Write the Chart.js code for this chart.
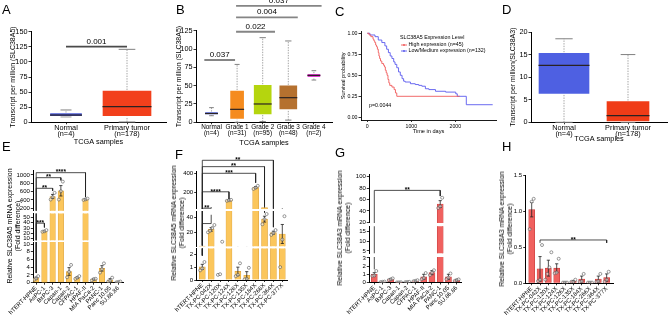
<!DOCTYPE html>
<html><head><meta charset="utf-8">
<script src="https://cdn.jsdelivr.net/npm/chart.js@4.4.1/dist/chart.umd.min.js"></script>
<style>
html,body{margin:0;padding:0;background:#fff;}
#wrap{position:relative;width:669px;height:321px;overflow:hidden;font-family:'Liberation Sans',Arial,Helvetica,sans-serif;background:#fff;}
canvas{position:absolute;}
.lt{position:absolute;font-size:13px;line-height:13px;color:#000;}
.yt{position:absolute;white-space:nowrap;font-size:7px;line-height:8px;color:#000;text-align:center;transform:translate(-50%,-50%) rotate(-90deg);}
</style></head>
<body><div id="wrap"></div>
<script>
// ================= DATA =================
// A : SLC38A5 TCGA, box summaries
const catTCGA = [['Normal','(n=4)'],['Primary tumor','(n=178)']];
const tickA = [0,25,50,75,100,125,150];
const A_min = [9, 0.5], A_q1 = [9.3, 9.3], A_med = [12, 25.8], A_q3 = [15.9, 53.5], A_max = [20.4, 120.8];
const A_sigFrom = [0], A_sigTo = [1], A_sigY = [125.2], A_sigP = ['0.001'];

// B : SLC38A5 by tumor grade
const catGrade = [['Normal','(n=4)'],['Grade 1','(n=31)'],['Grade 2','(n=95)'],['Grade 3','(n=48)'],['Grade 4','(n=2)']];
const tickB = [0,25,50,75,100,125];
const B_min = [9, 0, 1, 3, 57.7], B_q1 = [10, 4, 10, 16.8, 60.8], B_med = [12, 17.7, 25, 33.6, 64];
const B_q3 = [14.5, 44, 51.8, 51, 66.8], B_max = [20, 79, 115.5, 111, 70.4];
const B_sigFrom = [-0.28, 0.96, 0.96, 0.96], B_sigTo = [0.92, 2.48, 3.37, 4.3];
const B_sigY = [85, 123.6, 143.2, 159], B_sigP = ['0.037','0.022','0.004','0.037'];

// C : Kaplan-Meier
const kmHighT = [0,40,80,130,150,170,190,210,230,250,265,280,300,330,370,390,410,430,450,470,490,510,560,610,640,670,2100];
const kmHighS = [1,0.98,0.96,0.93,0.91,0.89,0.86,0.84,0.81,0.77,0.73,0.70,0.67,0.64,0.62,0.60,0.56,0.53,0.50,0.45,0.41,0.38,0.36,0.33,0.29,0.25,0.25];
const kmLowT = [0,60,175,250,330,400,440,480,520,560,600,630,670,710,750,790,825,860,980,1090,1170,1240,1320,1400,1550,1780,2010,2045,2250,2850];
const kmLowS = [1,0.98,0.96,0.92,0.89,0.85,0.81,0.77,0.73,0.70,0.66,0.63,0.59,0.54,0.50,0.46,0.43,0.42,0.40,0.39,0.38,0.37,0.34,0.33,0.31,0.30,0.28,0.25,0.15,0.15];
const tickCx = [0,1000,2000], tickCy = [0,0.25,0.5,0.75,1];
const kmTitle = 'SLC38A5 Expression Level', kmHigh = 'High expression (n=45)', kmLow = 'Low/Medium expression (n=132)', kmP = 'p=0.0044';

// D : SLC38A3 TCGA
const tickD = [0,5,10,15,20];
const D_min = [0, 0], D_q1 = [6.2, 0], D_med = [12.6, 1.5], D_q3 = [15.5, 4.8], D_max = [18.5, 15];

// E : SLC38A5 in cell lines
const cellLines = ['hTERT-HPNE','AsPC-1','BxPC-3','Capan-1','Capan-2','CFPAC-1','HPAF-II','MIA PaCa-2','PANC-1','Panc 10.05','SU.86.86'];
const E_mean = [1.2, 24, 483, 620, 2.9, 1.3, 416, 0.85, 3.7, 0.7, 0.2];
const E_sem  = [0.25, 1, 50, 125, 1, 0.2, 10, 0.15, 0.7, 0.35, 0.05];
const E_pts  = [[0.8,1.1,1.7],[23,24,26],[410,470,570],[410,610,840],[1.4,2.8,4.6],[1.0,1.3,1.7],[400,415,432],[0.6,0.95,1.0],[2.6,3.5,5.0],[0.3,0.5,1.3],[0.1,0.2,0.3]];
const E_brFrom = [0,0,0,0], E_brTo = [1,2,3,6], E_brY = [39,680,935,1055], E_brP = ['***','**','**','****'];
const E_brLo1 = [2.5,2.5,2.5,2.5], E_brLo2 = [31,620,870,470];
const E_ticks = [[200,400,600,800,1000],[10,20,30,40,50],[0,2,4,6,8,10]];

// F : SLC38A5 in PDX lines
const pdxLines = ['hTERT-HPNE','TX-PC-042X','TX-PC-120X','TX-PC-124X','TX-PC-126X','TX-PC-135X','TX-PC-184X','TX-PC-266X','TX-PC-364X','TX-PC-377X'];
const F_mean = [1.02, 24, null, 115, 0.67, 0.37, 250, 38, 19.5, 17.7];
const F_sem  = [0.2, 2.5, 0, 3, 0.33, 0.28, 10, 4, 2, 13];
const F_pts  = [[0.75,0.9,1.4],[20,22,26,30],[0.4,0.45,7.1],[110,115,120],[0.3,0.4,1.3],[0.05,0.1,0.95],[235,248,268],[31,38,45],[16.5,19,23],[1.0,10,42]];
const F_brFrom = [0,0,0,0,0], F_brTo = [1,3,6,7,8], F_brY = [32,205,400,470,537], F_brP = ['**','****','***','**','**'];
const F_brLo1 = [1.9,1.9,1.9,1.9,1.9], F_brLo2 = [44,130,300,47,27];
const F_ticks = [[200,400],[20,40],[0,1,2]];

// G : SLC38A3 in cell lines
const G_mean = [1.0, 0.08, 0.4, 0.02, 0.06, 0.2, 0.7, 1.2, 52, 0.7, 0.3];
const G_sem  = [0.2, 0.02, 0.08, 0.01, 0.02, 0.05, 0.3, 0.25, 6, 0.3, 0.08];
const G_pts  = [[0.8,0.85,1.4],[0.05,0.08,0.11],[0.3,0.4,0.5],[0.01,0.02,0.03],[0.04,0.06,0.08],[0.15,0.2,0.28],[0.4,0.55,1.15],[0.9,1.2,1.5],[45,48,63],[0.4,0.6,1.1],[0.2,0.3,0.38]];
const G_brFrom = [0], G_brTo = [8], G_brY = [76], G_brP = ['**'], G_brLo1 = [1.6], G_brLo2 = [66];
const G_ticks = [[20,40,60,80,100],[5,10,15],[0,1,2,3]];

// H : SLC38A3 in PDX lines
const H_mean = [1.02, 0.2, 0.21, 0.21, 0.01, 0.03, 0.06, 0.01, 0.06, 0.08];
const H_sem  = [0.1, 0.17, 0.11, 0.06, 0.005, 0.01, 0.04, 0.005, 0.04, 0.05];
const H_pts  = [[0.75,1.13,1.17],[0.03,0.05,0.53],[0.05,0.13,0.22,0.43],[0.14,0.15,0.34],[0.01,0.01,0.01],[0.02,0.02,0.05],[0.02,0.03,0.13],[0.01,0.01,0.01],[0.02,0.03,0.13],[0.02,0.05,0.16]];
const H_brFrom = [1], H_brTo = [9], H_brY = [0.6], H_brP = ['**'], H_brLo1 = [0.56], H_brLo2 = [0.56];
const H_ticks = [[0,0.5,1,1.5]];

// ================= SETUP =================
const FONT = "'Liberation Sans', Arial, Helvetica, sans-serif";
Chart.defaults.font.family = FONT;
Chart.defaults.color = '#000';
Chart.defaults.animation = false;
Chart.defaults.responsive = false;
Chart.defaults.maintainAspectRatio = false;
Chart.defaults.devicePixelRatio = 1;
Chart.defaults.events = [];
Chart.defaults.plugins.legend.display = false;
Chart.defaults.plugins.tooltip.enabled = false;

const wrap = document.getElementById('wrap');

function mk(area, o, cfg, xShown) {
  const cl = Math.floor(area.l - o.yw), ct = Math.floor(area.t - o.pt);
  const W = Math.ceil(area.r + o.pr - cl), H = Math.ceil(area.b + o.xh - ct);
  const yw = area.l - cl, pt = area.t - ct, pr = W - (area.r - cl), xh = H - (area.b - ct);
  const c = document.createElement('canvas');
  c.width = W; c.height = H;
  c.style.left = cl + 'px'; c.style.top = ct + 'px';
  c.style.width = W + 'px'; c.style.height = H + 'px';
  wrap.appendChild(c);
  cfg.options.layout = {autoPadding: false, padding: {top: pt, right: pr, left: 0, bottom: xShown ? 0 : xh}};
  const sx = cfg.options.scales.x, sy = cfg.options.scales.y;
  sy.afterFit = s => { s.width = yw; s.paddingTop = 0; s.paddingBottom = 0; };
  sx.afterFit = s => { s.height = xShown ? xh : 0; s.paddingLeft = 0; s.paddingRight = 0; };
  return new Chart(c.getContext('2d'), cfg);
}

function yScale(min, max, ticks, size, fmt, title) {
  const s = {type: 'linear', min, max,
    afterBuildTicks: sc => { sc.ticks = ticks.map(v => ({value: v})); },
    ticks: {font: {size}, color: '#000', padding: 1, autoSkip: false, callback: v => fmt ? fmt(v) : String(v)},
    grid: {display: true, drawOnChartArea: false, drawTicks: true, tickLength: 2.5, tickColor: '#000', tickWidth: 0.8},
    border: {display: true, color: '#000', width: 1}};
  if (title) s.title = title;
  return s;
}

function textLayer(items) {
  return {id: 'txt', afterDraw(chart) {
    const ctx = chart.ctx, xs = chart.scales.x, ys = chart.scales.y;
    items.forEach(it => {
      ctx.save();
      ctx.font = (it.bold ? 'bold ' : '') + it.size + 'px ' + FONT;
      ctx.fillStyle = it.color || '#000';
      ctx.textAlign = it.align || 'center';
      ctx.textBaseline = it.base || 'bottom';
      ctx.fillText(it.text, xs.getPixelForValue(it.x), ys.getPixelForValue(it.y) - (it.dy || 0));
      ctx.restore();
    });
  }};
}

function letter(t, x, y) {
  const d = document.createElement('div'); d.className = 'lt'; d.textContent = t;
  d.style.left = x + 'px'; d.style.top = y + 'px'; wrap.appendChild(d);
}
function yTitle(lines, cx, cy) {
  const d = document.createElement('div'); d.className = 'yt';
  d.innerHTML = lines.map(s => s.replace(/&/g,'&amp;').replace(/</g,'&lt;')).join('<br>');
  d.style.left = cx + 'px'; d.style.top = cy + 'px'; wrap.appendChild(d);
}

// ---------- box plot panels ----------
function boxPanel(Q) {
  const xmin = (Q.axisL - Q.pos0) / Q.step, xmax = (Q.axisR - Q.pos0) / Q.step;
  const ds = [];
  const wh = [];
  Q.cats.forEach((c, i) => { wh.push({x:i,y:Q.mn[i]},{x:i,y:Q.q1[i]},{x:i,y:null},{x:i,y:Q.q3[i]},{x:i,y:Q.mx[i]},{x:i,y:null}); });
  ds.push({type:'line', data: wh, borderColor:'#9a9a9a', borderWidth:0.9, borderDash:[1.4,1.2], pointRadius:0, spanGaps:false, clip:false, order:8});
  ds.push({type:'line', showLine:false, data: Q.cats.flatMap((c,i)=>[{x:i,y:Q.mn[i]},{x:i,y:Q.mx[i]}]), pointStyle:'line',
    pointRadius: Q.cats.flatMap((c,i)=>[Q.widths[i]/6, Q.widths[i]/6]), pointBorderColor:'#808080', pointBorderWidth:1, clip:false, order:7});
  Q.cats.forEach((c, i) => ds.push({type:'bar', data:[{x:i, y:[Q.q1[i], Q.q3[i]]}], backgroundColor: Q.colors[i],
    borderColor:'rgba(255,255,255,0.35)', borderWidth:1, borderSkipped:false, barThickness:Q.widths[i], grouped:false, order:5}));
  ds.push({type:'line', showLine:false, data: Q.cats.map((c,i)=>({x:i, y:Q.md[i]})), pointStyle:'line',
    pointRadius: Q.widths.map(w => w/2 - 0.5), pointBorderColor:'#2a2222', pointBorderWidth:1.2, clip:false, order:2});
  const labels = [];
  if (Q.sig) {
    const sl = [];
    Q.sig.from.forEach((a, j) => {
      sl.push({x:a, y:Q.sig.y[j]}, {x:Q.sig.to[j], y:Q.sig.y[j]}, {x:Q.sig.to[j], y:null});
      labels.push({x:(a + Q.sig.to[j]) / 2, y:Q.sig.y[j], text:Q.sig.p[j], size:8, dy:1.2});
    });
    ds.push({type:'line', data: sl, borderColor: Q.sigColor, borderWidth:1.8, pointRadius:0, spanGaps:false, clip:false, order:0});
  }
  const cfg = {type:'bar', data:{datasets: ds}, options:{scales:{
    x: {type:'linear', min:xmin, max:xmax, offset:false,
      afterBuildTicks: s => { s.ticks = Q.cats.map((c,i) => ({value:i})); },
      ticks: {autoSkip:false, minRotation:0, maxRotation:0, font:{size:Q.xFont, lineHeight:0.88}, padding:0, color:'#000', callback: v => Q.cats[v]},
      grid: {display:true, offset:false, drawOnChartArea:false, drawTicks:true, tickLength:2, tickColor:'#000', tickWidth:0.8},
      border: {display:true, color:'#000', width:1},
      title: {display:true, text:'TCGA samples', font:{size:7.3}, padding:{top:0, bottom:0}, color:'#000'}},
    y: yScale(0, Q.ymax, Q.ticks, 7.3, null, {display:true, text:Q.yTitle, font:{size:7}, padding:{top:Q.ytPad, bottom:0}, color:'#000'})
  }}, plugins:[textLayer(labels)]};
  mk({l:Q.axisL, r:Q.axisR, t:Q.t, b:Q.b}, {yw:Q.yw, pt:Q.pt, pr:2, xh:Q.xh}, cfg, true);
}

// ---------- bar panels with broken axis ----------
function barPanel(P) {
  const xmin = (P.axisL - P.pos0) / P.step, xmax = (P.axisR - P.pos0) / P.step;
  const nSeg = P.segs.length;
  // segment that owns a value: the lowest segment whose top reaches it
  const owner = v => { for (let s = nSeg - 1; s >= 0; s--) if (v <= P.segs[s].max) return s; return 0; };
  const err = [];
  P.mean.forEach((m, i) => { if (m == null) return; err.push({x:i,y:m - P.sem[i]},{x:i,y:m + P.sem[i]},{x:i,y:null}); });
  const br = [];
  P.brFrom.forEach((a, j) => { const b = P.brTo[j], h = P.brY[j];
    br.push({x:a,y:P.brLo1[j]},{x:a,y:h},{x:b,y:h},{x:b,y:P.brLo2[j]},{x:b,y:null}); });
  P.segs.forEach((sg, si) => {
    const top = si === 0, bottom = si === nSeg - 1;
    const bars = P.mean.map((m, i) => ({x:i, y:(m != null && m > sg.min) ? m : null}));
    const caps = [];
    P.mean.forEach((m, i) => { if (m == null) return;
      [m + P.sem[i], m - P.sem[i]].forEach(v => { if (owner(v) === si && v >= sg.min) caps.push({x:i, y:v}); }); });
    const pts = [];
    P.pts.forEach((arr, i) => arr.forEach((v, k) => { if (owner(v) === si) pts.push({x: i + (k - (arr.length - 1) / 2) * 0.24, y: v}); }));
    const labels = [];
    P.brFrom.forEach((a, j) => { const h = P.brY[j]; const o = P.segs.findIndex(s => h >= s.min);
      if (o === si) labels.push({x:(a + P.brTo[j]) / 2, y:h, text:P.brP[j], size:6.5, bold:true, base:'alphabetic', dy:-1.8}); });
    const cfg = {type:'bar', data:{datasets:[
      {type:'bar', data:bars, backgroundColor:P.fill, borderColor:P.edge, borderWidth:0.6, barThickness:P.barW, grouped:false, clip:0, order:5},
      {type:'line', data:err, borderColor:'#222', borderWidth:0.8, pointRadius:0, spanGaps:false, clip:0, order:3},
      {type:'line', data:caps, showLine:false, pointStyle:'line', pointRadius:1.6, pointBorderColor:'#222', pointBorderWidth:0.8, clip:0, order:3},
      {type:'line', data:pts, showLine:false, pointStyle:'circle', pointRadius:1.5, pointBackgroundColor:'rgba(255,255,255,0.55)',
        pointBorderColor:'#555', pointBorderWidth:0.6, clip: top ? {left:false, right:false, top:false, bottom:0} : 0, order:2},
      {type:'line', data:br, borderColor:'#222', borderWidth:0.8, pointRadius:0, spanGaps:false,
        clip: top ? {left:false, right:false, top:false, bottom:0} : 0, order:1}
    ]}, options:{scales:{
      x: {type:'linear', min:xmin, max:xmax, offset:false, display:bottom,
        afterBuildTicks: s => { s.ticks = P.names.map((nm, i) => ({value:i})); },
        ticks: {autoSkip:false, minRotation:45, maxRotation:45, font:{size:6}, padding:0, color:'#000', callback: v => P.names[v]},
        grid: {display:true, offset:false, drawOnChartArea:false, drawTicks:true, tickLength:2, tickColor:'#000', tickWidth:0.8},
        border: {display:true, color:'#000', width:1}},
      y: yScale(sg.min, sg.max, P.ticks[si], 6, P.fmt)
    }}, plugins:[textLayer(labels)]};
    mk({l:P.axisL, r:P.axisR, t:sg.t, b:sg.b}, {yw:P.yw, pt: top ? P.pt : 4, pr:2, xh: bottom ? P.xh : 4}, cfg, bottom);
  });
}

// ================= PANELS =================
boxPanel({cats:catTCGA, mn:A_min, q1:A_q1, md:A_med, q3:A_q3, mx:A_max, colors:['#4b5bd9','#f2401c'], widths:[33,50],
  ticks:tickA, ymax:150, yTitle:'Transcript per million (SLC38A5)', ytPad:8.5, xFont:7.3,
  axisL:31, axisR:166, pos0:66, step:61, t:31.7, b:122.3, yw:31, pt:4, xh:22.9,
  sig:{from:A_sigFrom, to:A_sigTo, y:A_sigY, p:A_sigP}, sigColor:'#4a4a4a'});

boxPanel({cats:catGrade, mn:B_min, q1:B_q1, md:B_med, q3:B_q3, mx:B_max,
  colors:['#5566de','#f58b1e','#b5d50e','#b5712f','#df3fd2'], widths:[14,15,19,19,14],
  ticks:tickB, ymax:125, yTitle:'Transcript per million (SLC38A5)', ytPad:9.8, xFont:6.4,
  axisL:196, axisR:332, pos0:211.5, step:25.6, t:30.7, b:122.3, yw:31, pt:30.7, xh:23.9,
  sig:{from:B_sigFrom, to:B_sigTo, y:B_sigY, p:B_sigP}, sigColor:'#858585'});

boxPanel({cats:catTCGA, mn:D_min, q1:D_q1, md:D_med, q3:D_q3, mx:D_max, colors:['#4e60e2','#f03c17'], widths:[52,44],
  ticks:tickD, ymax:20, yTitle:'Transcript per million(SLC38A3)', ytPad:9.1, xFont:7.3,
  axisL:531, axisR:667, pos0:564, step:64, t:32, b:122.3, yw:31, pt:4, xh:20.5});

// C : Kaplan-Meier
(function(){
  const RED = '#f05a5a', BLUE = '#5a5aee';
  const legendC = {id:'legC', afterDraw(chart) {
    const ctx = chart.ctx, a = chart.chartArea;
    ctx.save();
    ctx.font = '5.3px ' + FONT; ctx.textBaseline = 'middle'; ctx.textAlign = 'left'; ctx.fillStyle = '#000';
    ctx.fillText(kmTitle, a.left + 39, a.top + 6);
    [[kmHigh, RED, 13.3], [kmLow, BLUE, 19.3]].forEach(([t, c, dy]) => {
      ctx.strokeStyle = c; ctx.lineWidth = 0.9; ctx.beginPath();
      ctx.moveTo(a.left + 40, a.top + dy); ctx.lineTo(a.left + 46, a.top + dy); ctx.stroke();
      ctx.fillStyle = c; ctx.beginPath(); ctx.arc(a.left + 43, a.top + dy, 0.9, 0, Math.PI * 2); ctx.fill();
      ctx.fillStyle = '#000'; ctx.fillText(t, a.left + 47.5, a.top + dy);
    });
    ctx.restore();
  }};
  const cfg = {type:'line', data:{datasets:[
    {data: kmHighT.map((t,i)=>({x:t, y:kmHighS[i]})), stepped:true, borderColor:RED, borderWidth:0.9, pointRadius:0, clip:false},
    {data: kmLowT.map((t,i)=>({x:t, y:kmLowS[i]})), stepped:true, borderColor:BLUE, borderWidth:0.9, pointRadius:0, clip:false}
  ]}, options:{scales:{
    x: {type:'linear', min:-143, max:2925,
      afterBuildTicks: s => { s.ticks = tickCx.map(v => ({value:v})); },
      ticks: {font:{size:5.2}, padding:1, color:'#000', autoSkip:false, maxRotation:0, callback: v => String(v)},
      grid: {display:true, drawOnChartArea:false, drawTicks:true, tickLength:2, tickColor:'#000', tickWidth:0.8},
      border: {display:true, color:'#000', width:0.9},
      title: {display:true, text:'Time in days', font:{size:5.6}, padding:{top:0, bottom:0}, color:'#000'}},
    y: yScale(-0.032, 1.019, tickCy, 5.2, v => v.toFixed(2), {display:true, text:'Survival probability', font:{size:5.6}, padding:{top:8.9, bottom:0}, color:'#000'})
  }}, plugins:[legendC, textLayer([{x:40, y:0.146, text:kmP, size:5.3, align:'left', base:'middle'}])]};
  cfg.options.scales.y.border.width = 0.9;
  mk({l:361, r:496, t:31.7, b:120}, {yw:30, pt:4, pr:4, xh:15}, cfg, true);
})();

const YELLOW = '#fbc65c', YEDGE = '#dca23c', REDF = '#f0615f', REDGE = '#c63c3c';
barPanel({names:cellLines, mean:E_mean, sem:E_sem, pts:E_pts, brFrom:E_brFrom, brTo:E_brTo, brY:E_brY, brP:E_brP, brLo1:E_brLo1, brLo2:E_brLo2,
  ticks:E_ticks, fill:YELLOW, edge:YEDGE, barW:5.5, axisL:33.3, axisR:123.3, pos0:36.2, step:8.22, yw:34, pt:8, xh:38,
  segs:[{min:140,max:1100,t:170.8,b:210.8},{min:7,max:57,t:213.6,b:240.3},{min:0,max:10.5,t:242.1,b:282.7}]});

barPanel({names:pdxLines, mean:F_mean, sem:F_sem, pts:F_pts, brFrom:F_brFrom, brTo:F_brTo, brY:F_brY, brP:F_brP, brLo1:F_brLo1, brLo2:F_brLo2,
  ticks:F_ticks, fill:YELLOW, edge:YEDGE, barW:6, axisL:196.7, axisR:287, pos0:202.3, step:8.89, yw:34, pt:17, xh:40,
  segs:[{min:25,max:420,t:171.4,b:208.9},{min:1,max:49,t:211.1,b:246.2},{min:0,max:2.45,t:248.5,b:280}]});

barPanel({names:cellLines, mean:G_mean, sem:G_sem, pts:G_pts, brFrom:G_brFrom, brTo:G_brTo, brY:G_brY, brP:G_brP, brLo1:G_brLo1, brLo2:G_brLo2,
  ticks:G_ticks, fill:REDF, edge:REDGE, barW:6, axisL:369.3, axisR:461.7, pos0:374.3, step:8.24, yw:32, pt:4, xh:38,
  segs:[{min:19,max:104,t:174.4,b:222.9},{min:3.8,max:17.8,t:226.3,b:253.3},{min:0,max:3.1,t:257.1,b:282.5}]});

barPanel({names:pdxLines, mean:H_mean, sem:H_sem, pts:H_pts, brFrom:H_brFrom, brTo:H_brTo, brY:H_brY, brP:H_brP, brLo1:H_brLo1, brLo2:H_brLo2,
  ticks:H_ticks, fill:REDF, edge:REDGE, barW:6, axisL:525.7, axisR:613.3, pos0:531.7, step:8.33, yw:30, pt:4, xh:38, fmt: v => v.toFixed(1),
  segs:[{min:0,max:1.5,t:175,b:283.3}]});

// titles and letters
yTitle(['Relative SLC38A5 mRNA expression','(Fold difference)'], 14, 226);
yTitle(['Relative SLC38A5 mRNA expression','(Fold difference)'], 177.5, 223);
yTitle(['Relative SLC38A3 mRNA expression','(Fold difference)'], 344.2, 228);
yTitle(['Relative SLC38A3 mRNA expression','(Fold difference)'], 506.3, 229);
letter('A', 2, 3.3); letter('B', 176, 3.3); letter('C', 335, 5); letter('D', 502, 3.3);
letter('E', 2, 140.3); letter('F', 175, 148.3); letter('G', 335, 146.3); letter('H', 502, 140.3);
</script>
</body></html>
